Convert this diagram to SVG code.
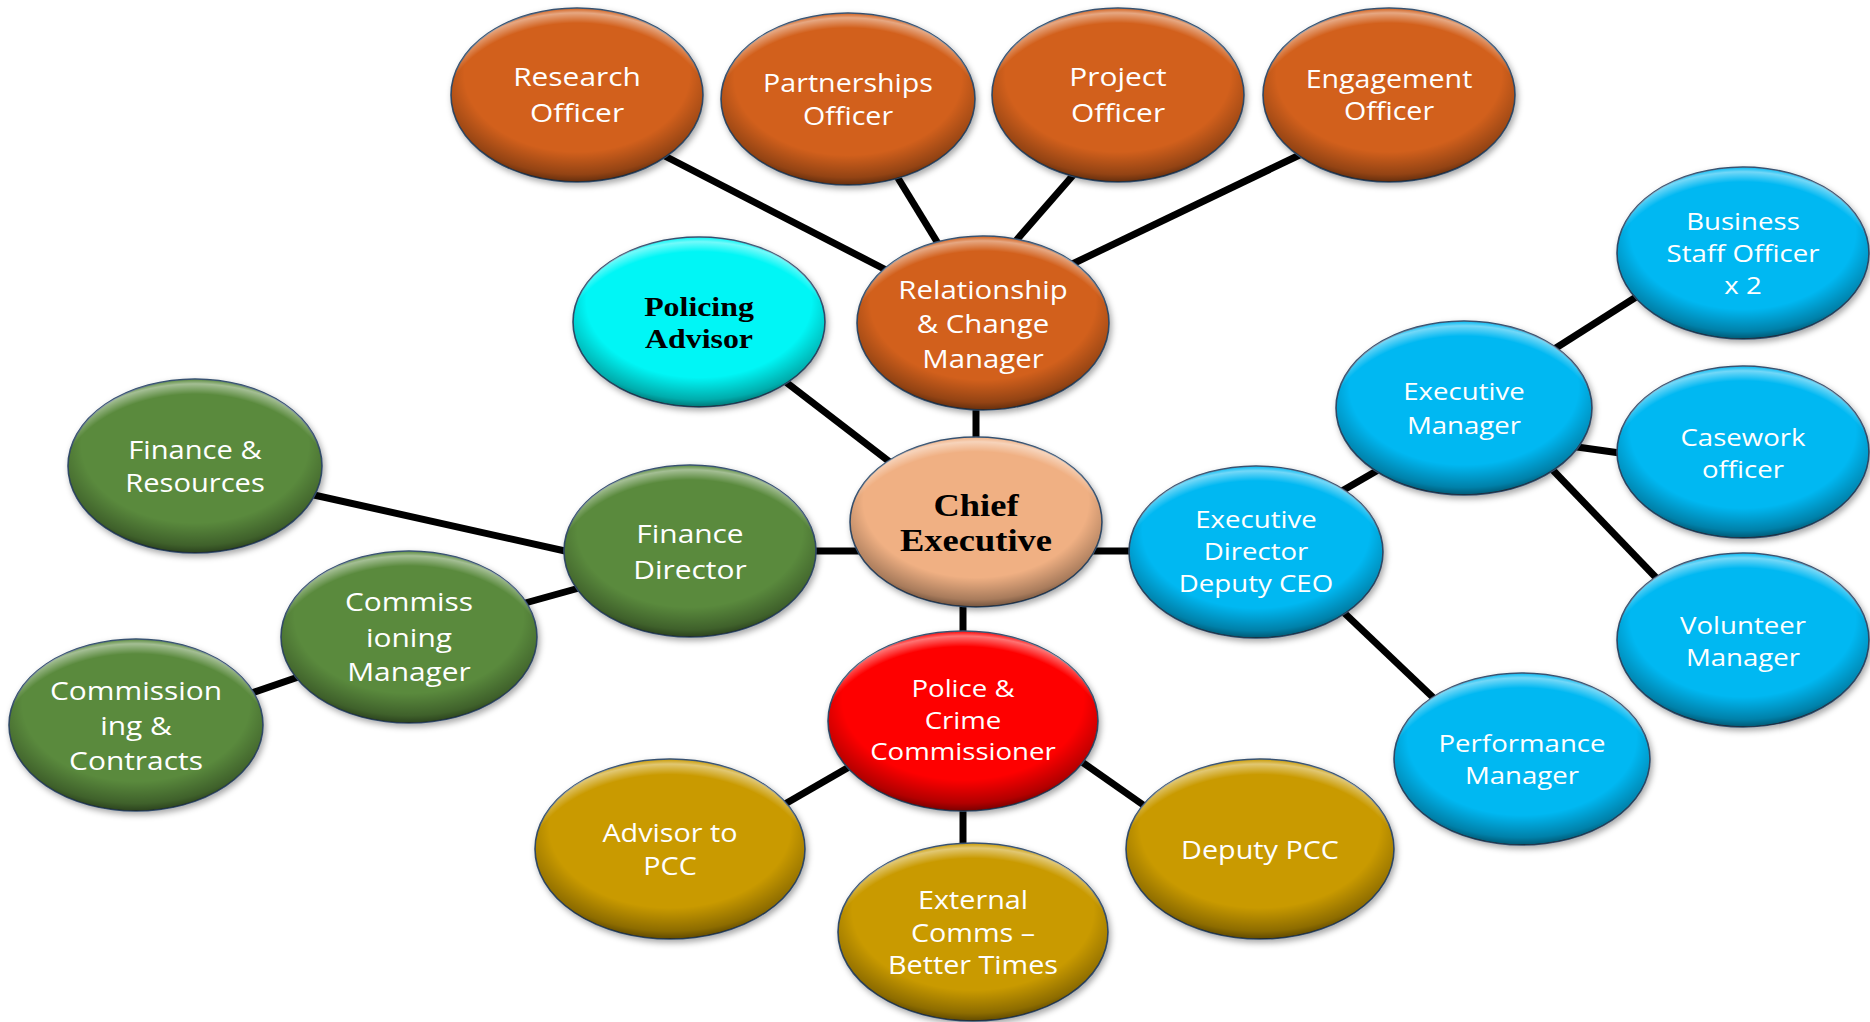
<svg xmlns="http://www.w3.org/2000/svg" width="1870" height="1022" viewBox="0 0 1870 1022">
  <defs>
    <style>
      .link { stroke: #000; stroke-width: 7; stroke-linecap: butt; fill: none; }
      .base { stroke: #35506e; stroke-width: 1.6; filter: url(#shadow); }
      .shade { fill: url(#rimShade); stroke: none; }
      .hi { fill: url(#rimLight); stroke: none; }
      .orange { fill: #d2601a; }
      .green { fill: #5a8a3c; }
      .blue { fill: #06b8f2; }
      .cyan { fill: #00f6f6; }
      .peach { fill: #f0b083; }
      .red { fill: #fe0202; }
      .gold { fill: #c99a06; }
      text { font-family: "Open Sans", "Liberation Sans", sans-serif; fill: #ffffff; text-anchor: middle; dominant-baseline: central; }
      .s26 text { font-size: 26px; }
      .s25 text { font-size: 25px; }
      .s24 text { font-size: 24px; }
      .serif text { font-family: "Liberation Serif", "DejaVu Serif", serif; font-weight: bold; fill: #000000; }
    </style>
    <filter id="shadow" x="-10%" y="-10%" width="125%" height="130%">
      <feDropShadow dx="2" dy="3" stdDeviation="3" flood-color="#000" flood-opacity="0.35"/>
    </filter>
    <!-- darker rim towards the lower edge -->
    <radialGradient id="rimShade" cx="50%" cy="38%" r="62%">
      <stop offset="0.72" stop-color="#000" stop-opacity="0"/>
      <stop offset="0.93" stop-color="#000" stop-opacity="0.3"/>
      <stop offset="1" stop-color="#000" stop-opacity="0.52"/>
    </radialGradient>
    <!-- light bevel along the upper edge -->
    <radialGradient id="rimLight" cx="50%" cy="62%" r="62%">
      <stop offset="0.86" stop-color="#fff" stop-opacity="0"/>
      <stop offset="0.955" stop-color="#fff" stop-opacity="0.45"/>
      <stop offset="1" stop-color="#fff" stop-opacity="0"/>
    </radialGradient>
  </defs>

  <rect width="1870" height="1022" fill="#ffffff"/>

  <g id="connectors">
    <line class="link" x1="657" y1="152" x2="892" y2="273"/>
    <line class="link" x1="890" y1="165" x2="942" y2="250"/>
    <line class="link" x1="1082" y1="165" x2="1007" y2="251"/>
    <line class="link" x1="1308" y1="151" x2="1066" y2="267"/>
    <line class="link" x1="778" y1="376" x2="895" y2="466"/>
    <line class="link" x1="976" y1="400" x2="976" y2="445"/>
    <line class="link" x1="305" y1="493" x2="574" y2="553"/>
    <line class="link" x1="518" y1="605" x2="590" y2="585"/>
    <line class="link" x1="246" y1="695" x2="307" y2="674"/>
    <line class="link" x1="805" y1="551" x2="865" y2="551"/>
    <line class="link" x1="1085" y1="551" x2="1140" y2="551"/>
    <line class="link" x1="963" y1="598" x2="963" y2="640"/>
    <line class="link" x1="778" y1="808" x2="856" y2="763"/>
    <line class="link" x1="963" y1="800" x2="963" y2="852"/>
    <line class="link" x1="1072" y1="755" x2="1149" y2="809"/>
    <line class="link" x1="1335" y1="495" x2="1385" y2="466"/>
    <line class="link" x1="1337" y1="606" x2="1441" y2="705"/>
    <line class="link" x1="1548" y1="353" x2="1644" y2="292"/>
    <line class="link" x1="1570" y1="446" x2="1627" y2="454"/>
    <line class="link" x1="1547" y1="464" x2="1665" y2="587"/>
  </g>

  <!-- Relationship & Change team -->
  <g id="research-officer" class="s26">
    <ellipse class="base orange" cx="577" cy="95" rx="126" ry="87"/>
    <ellipse class="shade" cx="577" cy="95" rx="126" ry="87"/>
    <ellipse class="hi" cx="577" cy="95" rx="126" ry="87"/>
    <g transform="translate(577 0) scale(1.15 1)">
      <text x="0" y="76">Research</text>
      <text x="0" y="112">Officer</text>
    </g>
  </g>
  <g id="partnerships-officer" class="s26">
    <ellipse class="base orange" cx="848" cy="99" rx="127" ry="86"/>
    <ellipse class="shade" cx="848" cy="99" rx="127" ry="86"/>
    <ellipse class="hi" cx="848" cy="99" rx="127" ry="86"/>
    <g transform="translate(848 0) scale(1.1 1)">
      <text x="0" y="82">Partnerships</text>
      <text x="0" y="115">Officer</text>
    </g>
  </g>
  <g id="project-officer" class="s26">
    <ellipse class="base orange" cx="1118" cy="95" rx="126" ry="87"/>
    <ellipse class="shade" cx="1118" cy="95" rx="126" ry="87"/>
    <ellipse class="hi" cx="1118" cy="95" rx="126" ry="87"/>
    <g transform="translate(1118 0) scale(1.15 1)">
      <text x="0" y="76">Project</text>
      <text x="0" y="112">Officer</text>
    </g>
  </g>
  <g id="engagement-officer" class="s26">
    <ellipse class="base orange" cx="1389" cy="95" rx="126" ry="87"/>
    <ellipse class="shade" cx="1389" cy="95" rx="126" ry="87"/>
    <ellipse class="hi" cx="1389" cy="95" rx="126" ry="87"/>
    <g transform="translate(1389 0) scale(1.1 1)">
      <text x="0" y="78">Engagement</text>
      <text x="0" y="110">Officer</text>
    </g>
  </g>
  <g id="relationship-change-manager" class="s26">
    <ellipse class="base orange" cx="983" cy="323" rx="126" ry="87"/>
    <ellipse class="shade" cx="983" cy="323" rx="126" ry="87"/>
    <ellipse class="hi" cx="983" cy="323" rx="126" ry="87"/>
    <g transform="translate(983 0) scale(1.13 1)">
      <text x="0" y="289">Relationship</text>
      <text x="0" y="323">&amp; Change</text>
      <text x="0" y="358">Manager</text>
    </g>
  </g>

  <g id="policing-advisor" class="serif">
    <ellipse class="base cyan" cx="699" cy="322" rx="126" ry="85"/>
    <ellipse class="shade" cx="699" cy="322" rx="126" ry="85"/>
    <ellipse class="hi" cx="699" cy="322" rx="126" ry="85"/>
    <g transform="translate(699 0) scale(1.18 1)">
      <text x="0" y="307" font-size="27">Policing</text>
      <text x="0" y="339" font-size="27">Advisor</text>
    </g>
  </g>

  <g id="chief-executive" class="serif">
    <ellipse class="base peach" cx="976" cy="522" rx="126" ry="85"/>
    <ellipse class="shade" cx="976" cy="522" rx="126" ry="85"/>
    <ellipse class="hi" cx="976" cy="522" rx="126" ry="85"/>
    <g transform="translate(976 0) scale(1.14 1)">
      <text x="0" y="505" font-size="32">Chief</text>
      <text x="0" y="540" font-size="32">Executive</text>
    </g>
  </g>

  <!-- Finance -->
  <g id="finance-resources" class="s26">
    <ellipse class="base green" cx="195" cy="466" rx="127" ry="87"/>
    <ellipse class="shade" cx="195" cy="466" rx="127" ry="87"/>
    <ellipse class="hi" cx="195" cy="466" rx="127" ry="87"/>
    <g transform="translate(195 0) scale(1.12 1)">
      <text x="0" y="449">Finance &amp;</text>
      <text x="0" y="482">Resources</text>
    </g>
  </g>
  <g id="finance-director" class="s26">
    <ellipse class="base green" cx="690" cy="551" rx="126" ry="86"/>
    <ellipse class="shade" cx="690" cy="551" rx="126" ry="86"/>
    <ellipse class="hi" cx="690" cy="551" rx="126" ry="86"/>
    <g transform="translate(690 0) scale(1.15 1)">
      <text x="0" y="533">Finance</text>
      <text x="0" y="569">Director</text>
    </g>
  </g>
  <g id="commissioning-manager" class="s26">
    <ellipse class="base green" cx="409" cy="637" rx="128" ry="86"/>
    <ellipse class="shade" cx="409" cy="637" rx="128" ry="86"/>
    <ellipse class="hi" cx="409" cy="637" rx="128" ry="86"/>
    <g transform="translate(409 0) scale(1.15 1)">
      <text x="0" y="601">Commiss</text>
      <text x="0" y="637">ioning</text>
      <text x="0" y="671">Manager</text>
    </g>
  </g>
  <g id="commissioning-contracts" class="s26">
    <ellipse class="base green" cx="136" cy="725" rx="127" ry="86"/>
    <ellipse class="shade" cx="136" cy="725" rx="127" ry="86"/>
    <ellipse class="hi" cx="136" cy="725" rx="127" ry="86"/>
    <g transform="translate(136 0) scale(1.15 1)">
      <text x="0" y="690">Commission</text>
      <text x="0" y="725">ing &amp;</text>
      <text x="0" y="760">Contracts</text>
    </g>
  </g>

  <!-- Executive Director team -->
  <g id="executive-director" class="s24">
    <ellipse class="base blue" cx="1256" cy="552" rx="127" ry="86"/>
    <ellipse class="shade" cx="1256" cy="552" rx="127" ry="86"/>
    <ellipse class="hi" cx="1256" cy="552" rx="127" ry="86"/>
    <g transform="translate(1256 0) scale(1.15 1)">
      <text x="0" y="519">Executive</text>
      <text x="0" y="551">Director</text>
      <text x="0" y="583">Deputy CEO</text>
    </g>
  </g>
  <g id="executive-manager" class="s24">
    <ellipse class="base blue" cx="1464" cy="408" rx="128" ry="87"/>
    <ellipse class="shade" cx="1464" cy="408" rx="128" ry="87"/>
    <ellipse class="hi" cx="1464" cy="408" rx="128" ry="87"/>
    <g transform="translate(1464 0) scale(1.15 1)">
      <text x="0" y="391">Executive</text>
      <text x="0" y="425">Manager</text>
    </g>
  </g>
  <g id="business-staff-officer" class="s24">
    <ellipse class="base blue" cx="1743" cy="253" rx="126" ry="86"/>
    <ellipse class="shade" cx="1743" cy="253" rx="126" ry="86"/>
    <ellipse class="hi" cx="1743" cy="253" rx="126" ry="86"/>
    <g transform="translate(1743 0) scale(1.15 1)">
      <text x="0" y="221">Business</text>
      <text x="0" y="253">Staff Officer</text>
      <text x="0" y="285">x 2</text>
    </g>
  </g>
  <g id="casework-officer" class="s24">
    <ellipse class="base blue" cx="1743" cy="452" rx="126" ry="86"/>
    <ellipse class="shade" cx="1743" cy="452" rx="126" ry="86"/>
    <ellipse class="hi" cx="1743" cy="452" rx="126" ry="86"/>
    <g transform="translate(1743 0) scale(1.15 1)">
      <text x="0" y="437">Casework</text>
      <text x="0" y="469">officer</text>
    </g>
  </g>
  <g id="volunteer-manager" class="s24">
    <ellipse class="base blue" cx="1743" cy="640" rx="126" ry="87"/>
    <ellipse class="shade" cx="1743" cy="640" rx="126" ry="87"/>
    <ellipse class="hi" cx="1743" cy="640" rx="126" ry="87"/>
    <g transform="translate(1743 0) scale(1.15 1)">
      <text x="0" y="625">Volunteer</text>
      <text x="0" y="657">Manager</text>
    </g>
  </g>
  <g id="performance-manager" class="s24">
    <ellipse class="base blue" cx="1522" cy="759" rx="128" ry="86"/>
    <ellipse class="shade" cx="1522" cy="759" rx="128" ry="86"/>
    <ellipse class="hi" cx="1522" cy="759" rx="128" ry="86"/>
    <g transform="translate(1522 0) scale(1.15 1)">
      <text x="0" y="743">Performance</text>
      <text x="0" y="775">Manager</text>
    </g>
  </g>

  <!-- Commissioner's office -->
  <g id="police-crime-commissioner" class="s24">
    <ellipse class="base red" cx="963" cy="721" rx="135" ry="90"/>
    <ellipse class="shade" cx="963" cy="721" rx="135" ry="90"/>
    <ellipse class="hi" cx="963" cy="721" rx="135" ry="90"/>
    <g transform="translate(963 0) scale(1.15 1)">
      <text x="0" y="688">Police &amp;</text>
      <text x="0" y="720">Crime</text>
      <text x="0" y="751">Commissioner</text>
    </g>
  </g>
  <g id="advisor-to-pcc" class="s25">
    <ellipse class="base gold" cx="670" cy="849" rx="135" ry="90"/>
    <ellipse class="shade" cx="670" cy="849" rx="135" ry="90"/>
    <ellipse class="hi" cx="670" cy="849" rx="135" ry="90"/>
    <g transform="translate(670 0) scale(1.15 1)">
      <text x="0" y="832">Advisor to</text>
      <text x="0" y="865">PCC</text>
    </g>
  </g>
  <g id="external-comms" class="s25">
    <ellipse class="base gold" cx="973" cy="932" rx="135" ry="89"/>
    <ellipse class="shade" cx="973" cy="932" rx="135" ry="89"/>
    <ellipse class="hi" cx="973" cy="932" rx="135" ry="89"/>
    <g transform="translate(973 0) scale(1.15 1)">
      <text x="0" y="899">External</text>
      <text x="0" y="932">Comms –</text>
      <text x="0" y="964">Better Times</text>
    </g>
  </g>
  <g id="deputy-pcc" class="s25">
    <ellipse class="base gold" cx="1260" cy="849" rx="134" ry="90"/>
    <ellipse class="shade" cx="1260" cy="849" rx="134" ry="90"/>
    <ellipse class="hi" cx="1260" cy="849" rx="134" ry="90"/>
    <g transform="translate(1260 0) scale(1.15 1)">
      <text x="0" y="849">Deputy PCC</text>
    </g>
  </g>
</svg>
